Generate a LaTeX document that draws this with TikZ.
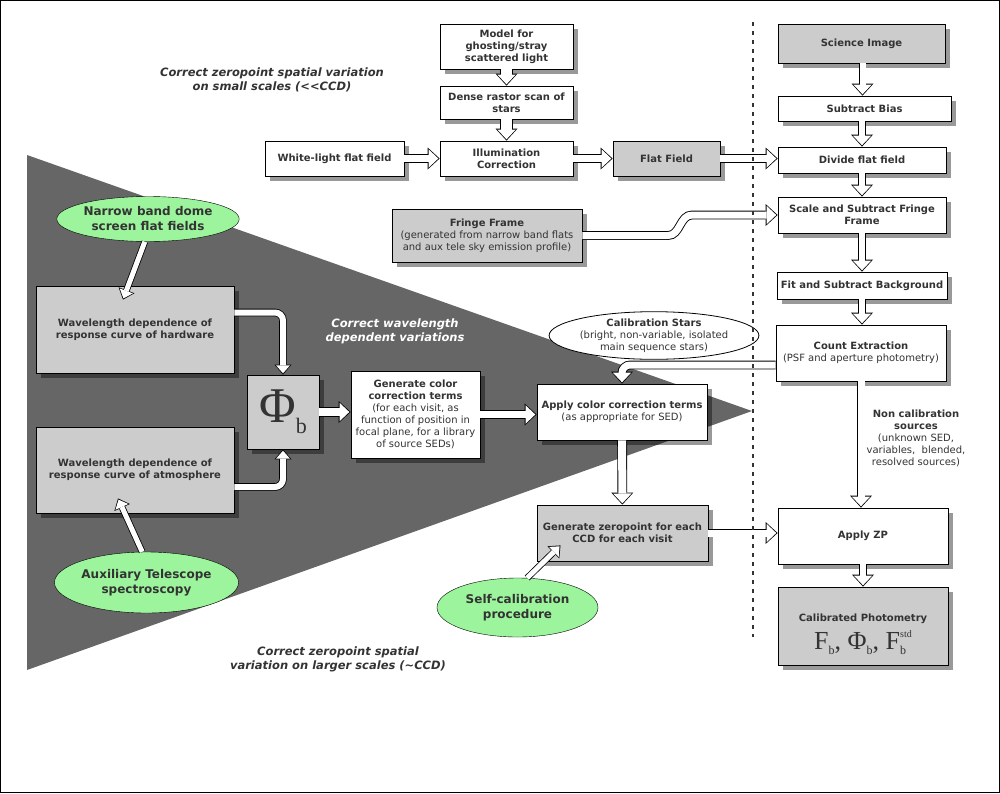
\documentclass[tikz,border=0pt]{standalone}
\usepackage[no-math]{fontspec}
\setmainfont{DejaVu Sans}
\newfontfamily\timesfont{Liberation Serif}
\usetikzlibrary{shapes.geometric,shadows,arrows.meta}
\definecolor{boxgray}{HTML}{CCCCCC}
\definecolor{trigray}{HTML}{666666}
\definecolor{leaf}{HTML}{9CF59C}
\definecolor{ink}{HTML}{333333}
\newcommand{\sub}[1]{\raisebox{-5pt}{\fontsize{12}{12}\selectfont #1}}
\tikzset{
  box/.style={draw=black, thick, fill=white, text=ink, font=\bfseries, align=center, inner sep=1pt,
    drop shadow={shadow xshift=5pt, shadow yshift=-5pt, fill=black, opacity=.4}},
  gbox/.style={box, fill=boxgray},
  blob/.style={ellipse, draw=black, fill=leaf, text=ink, inner sep=0pt, align=center,
    font=\fontsize{12}{15}\selectfont\bfseries},
  note/.style={align=center, text=ink, font=\fontsize{11.5}{14}\selectfont\bfseries\itshape},
  hollow/.style={line width=#1, white, shorten >=1.3pt,
    -{Triangle[width=18.5pt, length=9.8pt, line width=0pt]},
    preaction={draw=black, line width=#1+1.8pt, shorten >=0pt,
      -{Triangle[width=22pt, length=12pt, line width=0pt]}}},
  hollow/.default=7pt,
  hollowsm/.style={line width=#1, white, shorten >=1.3pt,
    -{Triangle[width=14pt, length=8pt, line width=0pt]},
    preaction={draw=black, line width=#1+1.6pt, shorten >=0pt,
      -{Triangle[width=17pt, length=10pt, line width=0pt]}}},
  hollowsm/.default=5pt
}

\begin{document}
\begin{tikzpicture}[x=1pt, y=-1pt]
  \useasboundingbox (0,0) rectangle (1000,793);
  \draw[line width=1.2pt] (0.6,0.6) rectangle (999.4,792.4);

  % wedge behind the wavelength part
  \fill[trigray] (27,155) -- (752,411) -- (27,670) -- cycle;

  % labels
  \node[note] (smallscale) at (272,80) {Correct zeropoint spatial variation\\on small scales (<{}<CCD)};
  \node[note, text=white] (wavelen) at (395,331) {Correct wavelength\\dependent variations};
  \node[note] (largescale) at (338,659) {Correct zeropoint spatial\\variation on larger scales (\textasciitilde CCD)};

  % top part
  \node[box, minimum width=133pt, minimum height=45pt] (ghost) at (506.5,46.5) {Model for\\ghosting/stray\\scattered light};
  \node[box, minimum width=133pt, minimum height=33pt] (raster) at (506.5,102.5) {Dense rastor scan of\\stars};
  \node[box, minimum width=133pt, minimum height=35pt] (illum) at (506.5,158.5) {Illumination\\Correction};
  \node[box, minimum width=139pt, minimum height=35pt] (whiteflat) at (334.5,158.5) {White-light flat field};
  \node[gbox, minimum width=107pt, minimum height=35pt] (flat) at (666.5,158.5) {Flat Field};
  \node[gbox, minimum width=190pt, minimum height=53pt] (fringe) at (487,235.5)
    {Fringe Frame\\\mdseries(generated from narrow band flats\\\mdseries and aux tele sky emission profile)};

  % right column
  \node[gbox, minimum width=167pt, minimum height=39pt] (science) at (861.5,43.5) {Science Image};
  \node[box, minimum width=173pt, minimum height=25pt] (bias) at (864.5,108.5) {Subtract Bias};
  \node[box, minimum width=168pt, minimum height=26pt] (divide) at (862,160) {Divide flat field};
  \node[box, minimum width=168pt, minimum height=36pt] (scalefr) at (862,215) {Scale and Subtract Fringe\\Frame};
  \node[box, minimum width=170pt, minimum height=27pt] (fitbg) at (862,285.5) {Fit and Subtract Background};
  \node[box, minimum width=170pt, minimum height=56pt] (count) at (861,353) {Count Extraction\\\mdseries(PSF and aperture photometry)};
  \node[box, minimum width=170pt, minimum height=56pt] (applyzp) at (863,536) {Apply ZP};
  \node[gbox, minimum width=170pt, minimum height=78pt] (calphot) at (863,626)
    {\rule{0pt}{24pt}Calibrated Photometry\\[6pt]
     \timesfont\mdseries\fontsize{26}{28}\selectfont
      F\sub{b}, Φ\sub{b}, F\rlap{\sub{b}}\raisebox{12pt}{\fontsize{10}{10}\selectfont std}};
  \node[align=center, text=ink, font=\bfseries] (noncal) at (916,438)
    {Non calibration\\sources\\\mdseries(unknown SED,\\\mdseries variables,\ \ blended,\\\mdseries resolved sources)};

  % wavelength part
  \node[gbox, minimum width=198pt, minimum height=87pt] (hardware) at (135,329.5) {Wavelength dependence of\\response curve of hardware};
  \node[gbox, minimum width=198pt, minimum height=86pt] (atmos) at (135,470) {Wavelength dependence of\\response curve of atmosphere};
  \node[gbox, minimum width=72pt, minimum height=74pt] (phi) at (283,412)
    {\timesfont\mdseries\fontsize{50}{50}\selectfont Φ\raisebox{-11pt}{\fontsize{22}{22}\selectfont b}};
  \node[box, minimum width=129pt, minimum height=87pt] (gencolor) at (415.5,414.5)
    {Generate color\\correction terms\\\mdseries(for each visit, as\\\mdseries function of position in\\\mdseries focal plane, for a library\\\mdseries of source SEDs)};
  \node[box, minimum width=170pt, minimum height=56pt] (applycol) at (622,412)
    {Apply color correction terms\\\mdseries(as appropriate for SED)};
  \node[gbox, minimum width=171pt, minimum height=56pt] (genzp) at (622.5,533)
    {Generate zeropoint for each\\CCD for each visit};

  \node[blob, minimum width=176pt, minimum height=45pt] (narrow) at (148,219) {Narrow band dome\\screen flat fields};
  \node[blob, minimum width=176pt, minimum height=61pt] (aux) at (146.5,582.5) {Auxiliary Telescope\\spectroscopy};
  \node[blob, minimum width=161pt, minimum height=59pt] (selfcal) at (517.5,607.5) {Self-calibration\\procedure};
  \node[ellipse, draw=black, thick, fill=white, text=ink, inner sep=0pt, align=center,
    minimum width=170pt, minimum height=45pt] (calstars) at (654,335.5)
    {\bfseries Calibration Stars\\(bright, non-variable, isolated\\main sequence stars)};

  % connectors
  \draw[hollow=11pt] (ghost) -- (raster);
  \draw[hollow=11pt] (raster) -- (illum);
  \draw[hollow] (whiteflat) -- (illum);
  \draw[hollow] (illum) -- (flat);
  \draw[hollow] (flat.east) -- (flat.east -| divide.west);
  \draw[hollow] (fringe.east) -- (668,235.5) to[out=0, in=180] (692,215) -- (scalefr.west);
  \draw[hollow=6pt] ([xshift=1pt]science.south) -- ([xshift=1pt]science.south |- bias.north);
  \draw[hollow=6pt] (bias.south -| divide.north) -- (divide.north);
  \draw[hollow=6pt] (divide) -- (scalefr);
  \draw[hollow=6pt] (scalefr) -- (fitbg);
  \draw[hollow=6pt] (fitbg) -- (fitbg.south |- count.north);
  \draw[hollow] (count.south) -- (count.south |- applyzp.north);
  \draw[hollow=6pt] (applyzp) -- (calphot);
  \draw[hollow, rounded corners=8pt] ([yshift=-12pt]count.west) -| (applycol.north);
  \draw[hollow=8pt] (applycol) -- (genzp);
  \draw[hollow] (genzp.east) -- (genzp.east -| applyzp.west);
  \draw[hollow=8pt] (phi.east) -- (phi.east -| gencolor.west);
  \draw[hollow] (gencolor.east) -- (gencolor.east -| applycol.west);
  \draw[hollowsm=6pt, rounded corners=8pt] ([yshift=17pt]hardware.east) -| (phi.north);
  \draw[hollowsm=6pt, rounded corners=8pt] ([yshift=-17pt]atmos.east) -| (phi.south);
  \draw[hollowsm] (narrow.-98) -- ([xshift=-12pt, yshift=-14pt]hardware.north);
  \draw[hollowsm] (aux.98) -- ([xshift=-17pt, yshift=15pt]atmos.south);
  \draw[hollowsm] (selfcal.72) -- ([xshift=-62pt, yshift=16pt]genzp.south);

  % separator
  \draw[line width=2pt, dash pattern=on 4pt off 5pt, ink] (753,22) -- (753,637);
\end{tikzpicture}
\end{document}
